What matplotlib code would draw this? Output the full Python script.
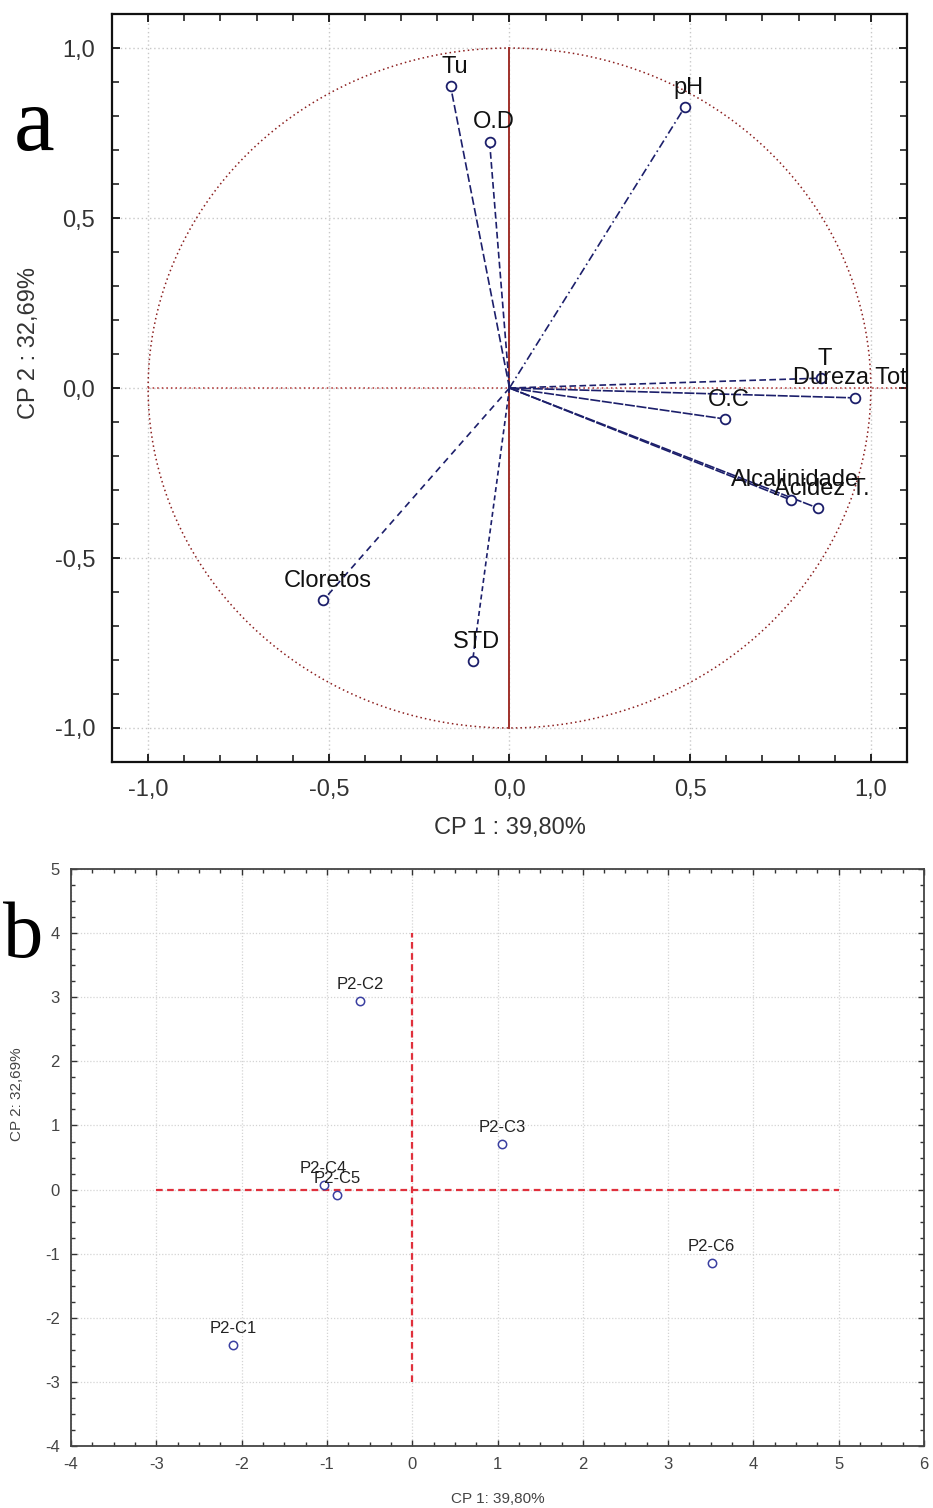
import matplotlib
matplotlib.use('Agg')
import matplotlib.pyplot as plt
import numpy as np

# painel a - cargas das variaveis
variaveis = ['Tu', 'O.D', 'pH', 'T', 'Dureza Total', 'O.C', 'Alcalinidade', 'Acidez T.', 'Cloretos', 'STD']
cp1_var = [-0.163, -0.055, 0.485, 0.862, 0.956, 0.596, 0.778, 0.853, -0.515, -0.102]
cp2_var = [0.888, 0.724, 0.826, 0.029, -0.029, -0.091, -0.329, -0.353, -0.624, -0.803]

# painel b - escores das amostras
amostras = ['P2-C1', 'P2-C2', 'P2-C3', 'P2-C4', 'P2-C5', 'P2-C6']
cp1_am = [-2.10, -0.61, 1.055, -1.04, -0.88, 3.51]
cp2_am = [-2.43, 2.94, 0.71, 0.07, -0.09, -1.15]

ticks_a = [-1.0, -0.5, 0.0, 0.5, 1.0]
ticks_bx = list(range(-4, 7))
ticks_by = list(range(-4, 6))

estilos = [(0, (5, 2)), (0, (4, 2)), (0, (5, 2, 1, 2)), (0, (4, 2)), (0, (6, 1)),
           (0, (6, 1)), (0, (6, 1)), (0, (6, 1)), (0, (4, 3)), (0, (3, 2))]

plt.rcParams['font.family'] = ['Liberation Sans', 'DejaVu Sans']
plt.rcParams['axes.unicode_minus'] = False

fig = plt.figure(figsize=(9.33, 15.08), dpi=100)

navy = '#1c1f6b'

def virgula(v):
    return ('%.1f' % v).replace('.', ',')

# ---------- painel a ----------
ax = fig.add_axes([0.1200, 0.4947, 0.8521, 0.4960])
ax.set_xlim(-1.1, 1.1)
ax.set_ylim(-1.1, 1.1)

th = np.linspace(0, 2 * np.pi, 400)
ax.plot(np.cos(th), np.sin(th), color='#8b1e1e', lw=1.1, ls=(0, (1, 2)), zorder=2)
ax.plot([-1, 1.1], [0, 0], color='#b03030', lw=1.1, ls=(0, (1, 2)), zorder=2)
ax.plot([0, 0], [-1, 1], color='#a0302a', lw=1.4, zorder=2)

for i in range(len(variaveis)):
    ax.plot([0, cp1_var[i]], [0, cp2_var[i]], color=navy, lw=1.2, ls=estilos[i], zorder=3)
    ax.plot(cp1_var[i], cp2_var[i], 'o', mfc='white', mec=navy, ms=7, mew=1.3, zorder=4)
    ax.annotate(variaveis[i], (cp1_var[i], cp2_var[i]), xytext=(3, 14), textcoords='offset points',
                ha='center', va='center', fontsize=17, color='#111111', zorder=5,
                annotation_clip=False, clip_on=True)

ax.set_xticks(ticks_a)
ax.set_yticks(ticks_a)
ax.set_xticklabels([virgula(v) for v in ticks_a])
ax.set_yticklabels([virgula(v) for v in ticks_a])
ax.set_xticks(np.arange(-1.0, 1.11, 0.1), minor=True)
ax.set_yticks(np.arange(-1.0, 1.11, 0.1), minor=True)
ax.tick_params(which='both', direction='in', top=True, right=True, color='#111111')
ax.tick_params(which='major', length=6, width=1.3, labelsize=17, labelcolor='#333333', pad=12)
ax.tick_params(which='minor', length=5, width=1.1)
ax.grid(True, which='major', color='#c8c8c8', ls=(0, (1, 2)), lw=1.0)
ax.set_axisbelow(True)
for s in ax.spines.values():
    s.set_linewidth(1.6)
    s.set_color('#111111')
ax.set_xlabel('CP 1 : 39,80%', fontsize=17, color='#333333', labelpad=12)
ax.set_ylabel('CP 2 : 32,69%', fontsize=17, color='#333333')
ax.yaxis.set_label_coords(-0.09, 0.56)

fig.text(0.015, 0.9005, 'a', fontsize=66, family='Liberation Serif', ha='left', va='baseline')

# ---------- painel b ----------
bx = fig.add_axes([0.0761, 0.0411, 0.9143, 0.3826])
bx.set_xlim(-4, 6)
bx.set_ylim(-4, 5)

bx.plot([-3, 5], [0, 0], color='#e0303c', lw=1.6, ls=(0, (3, 2)), zorder=2)
bx.plot([0, 0], [-3, 4], color='#e0303c', lw=1.6, ls=(0, (3, 2)), zorder=2)

bx.plot(cp1_am, cp2_am, 'o', mfc='white', mec='#3a3fa0', ms=6, mew=1.1, ls='none', zorder=4)
for nome, x, y in zip(amostras, cp1_am, cp2_am):
    bx.annotate(nome, (x, y), xytext=(0, 12), textcoords='offset points',
                ha='center', va='center', fontsize=12, color='#222222', zorder=5)

bx.set_xticks(ticks_bx)
bx.set_yticks(ticks_by)
bx.set_xticks(np.arange(-4, 6.01, 0.25), minor=True)
bx.set_yticks(np.arange(-4, 5.01, 0.25), minor=True)
bx.tick_params(which='both', direction='in', top=True, right=True, color='#333333')
bx.tick_params(which='major', length=4, width=1.0, labelsize=12, labelcolor='#444444', pad=8)
bx.tick_params(which='minor', length=3, width=1.0)
bx.grid(True, which='major', color='#d4d4d4', ls=(0, (1, 1.5)), lw=0.9)
bx.set_axisbelow(True)
for s in bx.spines.values():
    s.set_linewidth(1.3)
    s.set_color('#444444')
bx.set_xlabel('CP 1: 39,80%', fontsize=11, color='#444444', labelpad=14)
bx.set_ylabel('CP 2: 32,69%', fontsize=11, color='#444444')
bx.yaxis.set_label_coords(-0.055, 0.61)

fig.text(0.003, 0.3654, 'b', fontsize=58, family='Liberation Serif', ha='left', va='baseline')

fig.savefig('out.png', dpi=100)
